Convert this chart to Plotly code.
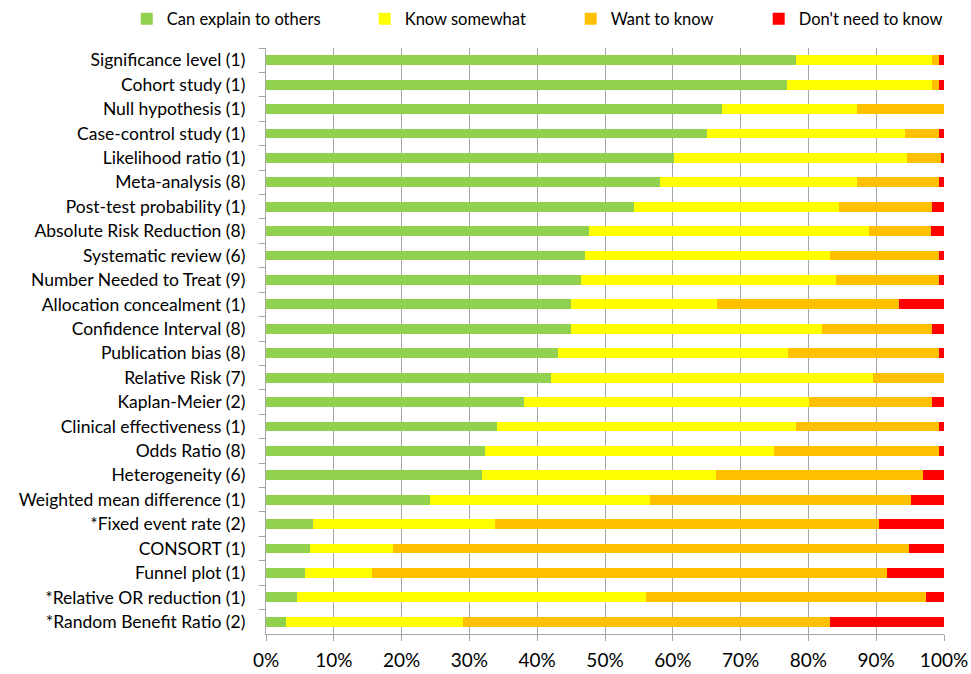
import plotly.graph_objects as go

categories = [
    "Significance level (1)", "Cohort study (1)", "Null hypothesis (1)",
    "Case-control study (1)", "Likelihood ratio (1)", "Meta-analysis (8)",
    "Post-test probability (1)", "Absolute Risk Reduction (8)",
    "Systematic review (6)", "Number Needed to Treat (9)",
    "Allocation concealment (1)", "Confidence Interval (8)",
    "Publication bias (8)", "Relative Risk (7)", "Kaplan-Meier (2)",
    "Clinical effectiveness (1)", "Odds Ratio (8)", "Heterogeneity (6)",
    "Weighted mean difference (1)", "*Fixed event rate (2)", "CONSORT (1)",
    "Funnel plot (1)", "*Relative OR reduction (1)", "*Random Benefit Ratio (2)",
]

can_explain = [78.2, 76.9, 67.2, 65.0, 60.2, 58.1, 54.3, 47.6, 47.1, 46.4, 45.0, 45.0,
               43.1, 42.1, 38.1, 34.0, 32.3, 31.8, 24.2, 7.0, 6.5, 5.8, 4.6, 2.9]
know_somewhat = [20.1, 21.4, 19.9, 29.2, 34.3, 29.0, 30.2, 41.4, 36.1, 37.6, 21.5, 37.0,
                 33.9, 47.4, 42.0, 44.2, 42.6, 34.5, 32.5, 26.8, 12.2, 9.9, 51.4, 26.1]
want_to_know = [0.9, 0.9, 12.9, 5.0, 5.0, 12.1, 13.8, 9.1, 16.0, 15.2, 26.8, 16.3,
                22.2, 10.5, 18.2, 21.0, 24.3, 30.6, 38.5, 56.6, 76.2, 75.9, 41.3, 54.2]
dont_need = [0.8, 0.8, 0.0, 0.8, 0.5, 0.8, 1.7, 1.9, 0.8, 0.8, 6.7, 1.7,
             0.8, 0.0, 1.7, 0.8, 0.8, 3.1, 4.8, 9.6, 5.1, 8.4, 2.7, 16.8]

series_names = ["Can explain to others", "Know somewhat", "Want to know", "Don't need to know"]
series_values = [can_explain, know_somewhat, want_to_know, dont_need]
colors = ["#92D050", "#FFFF00", "#FFC000", "#FF0000"]

tick_vals = [0, 10, 20, 30, 40, 50, 60, 70, 80, 90, 100]
tick_text = ["0%", "10%", "20%", "30%", "40%", "50%", "60%", "70%", "80%", "90%", "100%"]

legend_ids = ["legend", "legend2", "legend3", "legend4"]
legend_x = [-0.2054, 0.1456, 0.4494, 0.7267]

fig = go.Figure()
for name, vals, col, lid in zip(series_names, series_values, colors, legend_ids):
    fig.add_trace(go.Bar(
        y=categories, x=vals, name=name, orientation="h",
        marker=dict(color=col, line=dict(width=0)), width=0.4,
        legend=lid,
    ))

legend_common = dict(
    orientation="h", xanchor="left", y=1.0495, yanchor="middle",
    font=dict(size=16.5, color="black"), itemwidth=30,
    bgcolor="rgba(0,0,0,0)",
)
layout_legends = {}
for lid, lx in zip(legend_ids, legend_x):
    layout_legends[lid] = dict(legend_common, x=lx)

fig.update_layout(
    barmode="stack",
    width=971, height=674,
    margin=dict(l=266, r=27, t=48, b=40, autoexpand=False),
    paper_bgcolor="white", plot_bgcolor="white",
    font=dict(family="Lato, 'Open Sans', sans-serif", color="black"),
    showlegend=True,
    **layout_legends,
)
fig.update_xaxes(
    range=[0, 100], tickvals=tick_vals, ticktext=tick_text,
    showgrid=True, gridcolor="#A6A6A6", gridwidth=1.3,
    showline=True, linecolor="#A6A6A6", linewidth=1.3,
    ticks="outside", tickcolor="#A6A6A6", ticklen=6,
    tickfont=dict(size=19), zeroline=False, ticklabelstandoff=3,
)
fig.update_yaxes(
    categoryorder="array", categoryarray=categories, autorange="reversed",
    showline=True, linecolor="#A6A6A6", linewidth=1.3,
    ticks="outside", tickson="boundaries", tickcolor="#A6A6A6", ticklen=6,
    tickfont=dict(size=17.5), showgrid=False, ticklabelstandoff=16,
)

fig.write_html("out.html")
